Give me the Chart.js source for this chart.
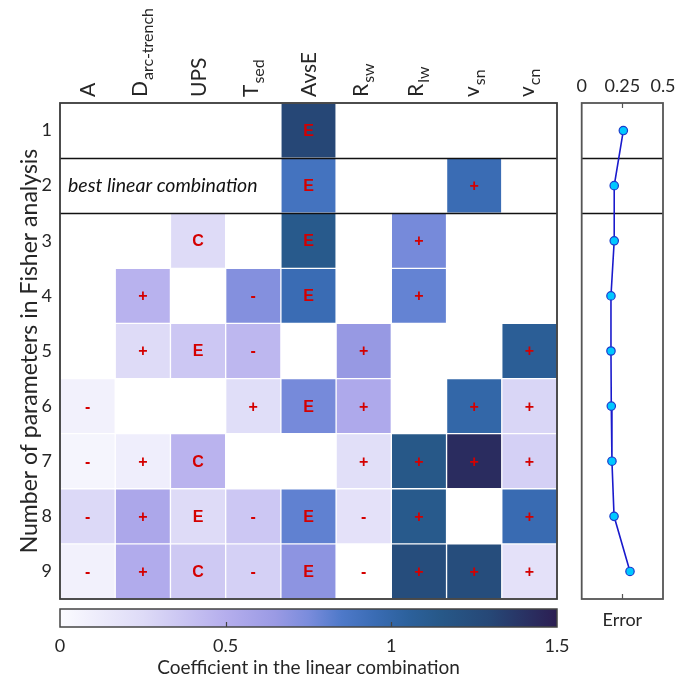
<!DOCTYPE html>
<html><head><meta charset="utf-8">
<script src="https://cdn.jsdelivr.net/npm/chart.js@4/dist/chart.umd.min.js"></script>
<style>
html,body{margin:0;padding:0;background:#fff;width:675px;height:684px;overflow:hidden;position:relative}
canvas{position:absolute;display:block}
#main{left:0;top:0}
#err{left:570px;top:0}
#cbar{left:0;top:600px}
</style></head><body>
<canvas id="main" width="570" height="604"></canvas>
<canvas id="err" width="110" height="640"></canvas>
<canvas id="cbar" width="675" height="84"></canvas>
<script>
// ---------- data ----------
const columnNames      = ['A','D','UPS','T','AvsE','R','R','v','v'];
const columnSubscripts = ['','arc-trench','','sed','','sw','lw','sn','cn'];
const rows = [1,2,3,4,5,6,7,8,9];

const coef1 = [0,0,0,0,1.30,0,0,0,0];
const coef2 = [0,0,0,0,0.90,0,0,0.95,0];
const coef3 = [0,0,0.25,0,1.13,0,0.76,0,0];
const coef4 = [0,0.48,0,0.72,0.95,0,0.80,0,0];
const coef5 = [0,0.25,0.36,0.45,0,0.66,0,0,1.08];
const coef6 = [0.08,0,0,0.23,0.76,0.54,0,1.00,0.28];
const coef7 = [0.05,0.10,0.47,0,0,0.22,1.15,1.43,0.31];
const coef8 = [0.26,0.55,0.25,0.36,0.81,0.20,1.13,0,0.96];
const coef9 = [0.08,0.52,0.35,0.31,0.69,0,1.25,1.25,0.20];

const sign1 = ['','','','','E','','','',''];
const sign2 = ['','','','','E','','','+',''];
const sign3 = ['','','C','','E','','+','',''];
const sign4 = ['','+','','-','E','','+','',''];
const sign5 = ['','+','E','-','','+','','','+'];
const sign6 = ['-','','','+','E','+','','+','+'];
const sign7 = ['-','+','C','','','+','+','+','+'];
const sign8 = ['-','+','E','-','E','-','+','','+'];
const sign9 = ['-','+','C','-','E','-','+','+','+'];

const errorValues = [0.256,0.200,0.200,0.180,0.180,0.182,0.186,0.199,0.297];

const errorTicks = [0, 0.25, 0.5];
const colorbarTicks = [0, 0.5, 1, 1.5];
const colorbarRange = [0, 1.5];

const coefRows = [coef1,coef2,coef3,coef4,coef5,coef6,coef7,coef8,coef9];
const signRows = [sign1,sign2,sign3,sign4,sign5,sign6,sign7,sign8,sign9];

// ---------- colormap (style) ----------
const cmapStops = [
  [0.00,'#fbfbff'],[0.25,'#dedbf7'],[0.50,'#b5aeed'],[0.65,'#9a9ae4'],
  [0.75,'#7a8cdc'],[0.85,'#4e79c9'],[0.95,'#3a6cb4'],[1.05,'#2c619c'],
  [1.15,'#275888'],[1.30,'#264776'],[1.50,'#2c1e52']
];
function hex2rgb(h){return [1,3,5].map(i=>parseInt(h.substr(i,2),16));}
function cmap(v){
  if (v<=cmapStops[0][0]) return cmapStops[0][1];
  for (let i=1;i<cmapStops.length;i++){
    if (v<=cmapStops[i][0]){
      const [v0,c0]=cmapStops[i-1],[v1,c1]=cmapStops[i];
      const t=(v-v0)/(v1-v0), a=hex2rgb(c0), b=hex2rgb(c1);
      return 'rgb('+a.map((x,k)=>Math.round(x+(b[k]-x)*t)).join(',')+')';
    }
  }
  return cmapStops[cmapStops.length-1][1];
}

const FONT = 'Lato';
const TXT = '#262626';
Chart.defaults.color = TXT;
Chart.defaults.font.family = FONT;

function noPadY(s){ s.paddingTop = 0; s.paddingBottom = 0; }
function noPadX(s){ s.paddingLeft = 0; s.paddingRight = 0; }

// ---------- main heatmap ----------
const heatPlugin = {
  id:'heatDeco',
  afterDatasetsDraw(chart){
    const {ctx, chartArea:ca, scales:{x,y}} = chart;
    ctx.save();
    // cell labels
    ctx.fillStyle = '#d40000';
    ctx.font = 'bold 16px "Liberation Sans", Arial, sans-serif';
    ctx.textAlign = 'center'; ctx.textBaseline = 'middle';
    signRows.forEach((sr,ri)=>{
      sr.forEach((s,ci)=>{
        if(!s) return;
        const px = x.getPixelForValue(ci), py = y.getPixelForValue(rows[ri]);
        ctx.fillText(s, px, py+1);
      });
    });
    // separators
    ctx.strokeStyle = '#111'; ctx.lineWidth = 1.7;
    [1.5,2.5].forEach(v=>{
      const py = Math.round(y.getPixelForValue(v))+0.5;
      ctx.beginPath(); ctx.moveTo(ca.left,py); ctx.lineTo(ca.right,py); ctx.stroke();
    });
    // frame
    ctx.strokeStyle = '#3a3a3a'; ctx.lineWidth = 1.8;
    ctx.strokeRect(ca.left, ca.top, ca.right-ca.left, ca.bottom-ca.top);
    // annotation
    ctx.fillStyle = '#111';
    ctx.font = 'italic 19.5px '+FONT;
    ctx.textAlign = 'left'; ctx.textBaseline = 'middle';
    ctx.fillText('best linear combination', ca.left+8, y.getPixelForValue(2));
    // column labels (rotated, with subscripts)
    ctx.fillStyle = TXT;
    columnNames.forEach((name,ci)=>{
      const sub = columnSubscripts[ci];
      const cx = x.getPixelForValue(ci);
      const capH = 15, subOff = sub ? 6 : 0;
      const b = (capH - subOff)/2;
      ctx.save();
      ctx.translate(cx, ca.top-6);
      ctx.rotate(-Math.PI/2);
      ctx.textAlign='left'; ctx.textBaseline='alphabetic';
      ctx.font = '21px '+FONT;
      ctx.fillText(name, 0, b);
      if (sub){
        const w = ctx.measureText(name).width;
        ctx.font = '16px '+FONT;
        ctx.fillText(sub, w+1, b+subOff);
      }
      ctx.restore();
    });
    ctx.restore();
  }
};

new Chart(document.getElementById('main'), {
  type:'bar',
  data:{
    labels: columnNames.map((n,i)=>n+columnSubscripts[i]),
    datasets: coefRows.map((cr,ri)=>({
      label:'n='+rows[ri],
      data: cr.map(v=> v>0 ? [rows[ri]-0.5, rows[ri]+0.5] : null),
      backgroundColor: cr.map(v=>cmap(v)),
      borderColor: 'rgba(255,255,255,0.12)',
      borderWidth: 1,
      borderSkipped: false,
      barPercentage:1, categoryPercentage:1, grouped:false
    }))
  },
  options:{
    responsive:false, animation:false, devicePixelRatio:1,
    layout:{padding:{left:14,right:13,top:0,bottom:5}},
    plugins:{legend:{display:false},tooltip:{enabled:false}},
    scales:{
      x:{position:'top', ticks:{display:false}, grid:{display:false}, border:{display:false},
         afterFit(s){ s.height = 103; noPadX(s); }},
      y:{type:'linear', reverse:true, min:0.5, max:9.5,
         afterBuildTicks(s){ s.ticks = rows.map(v=>({value:v})); },
         ticks:{font:{size:18,family:FONT}, color:TXT, padding:8, autoSkip:false},
         grid:{display:false, drawTicks:false}, border:{display:false},
         title:{display:true, text:'Number of parameters in Fisher analysis', font:{size:23,family:FONT}, color:TXT, padding:{top:2,bottom:0}},
         afterFit(s){ s.width = 46; noPadY(s); }}
    }
  },
  plugins:[heatPlugin]
});

// ---------- error panel ----------
const errPlugin = {
  id:'errDeco',
  beforeDatasetsDraw(chart){
    const {ctx, chartArea:ca, scales:{x,y}} = chart;
    ctx.save();
    ctx.strokeStyle = '#111'; ctx.lineWidth = 1.5;
    [1.5,2.5].forEach(v=>{
      const py = Math.round(y.getPixelForValue(v))+0.5;
      ctx.beginPath(); ctx.moveTo(ca.left,py); ctx.lineTo(ca.right,py); ctx.stroke();
    });
    ctx.strokeStyle = '#555'; ctx.lineWidth = 1.8;
    ctx.strokeRect(ca.left, ca.top, ca.right-ca.left, ca.bottom-ca.top);
    ctx.lineWidth = 1.2;
    errorTicks.slice(1,-1).forEach(v=>{
      const px = Math.round(x.getPixelForValue(v))+0.5;
      ctx.beginPath(); ctx.moveTo(px,ca.top); ctx.lineTo(px,ca.top+5);
      ctx.moveTo(px,ca.bottom); ctx.lineTo(px,ca.bottom-5); ctx.stroke();
    });
    ctx.restore();
  }
};
new Chart(document.getElementById('err'), {
  type:'line',
  data:{datasets:[{
    data: errorValues.map((e,i)=>({x:e, y:rows[i]})),
    borderColor:'#1a1acc', borderWidth:1.6,
    pointBackgroundColor:'#00c8ff', pointBorderColor:'#1a3acc',
    pointRadius:4.2, pointBorderWidth:1.2, tension:0
  }]},
  options:{
    responsive:false, animation:false, devicePixelRatio:1,
    layout:{padding:{left:11.7,right:17,top:0,bottom:0}},
    plugins:{legend:{display:false},tooltip:{enabled:false}},
    scales:{
      x:{type:'linear', position:'top', min:0, max:0.5,
         afterBuildTicks(s){ s.ticks = errorTicks.map(v=>({value:v})); },
         ticks:{font:{size:18,family:FONT}, color:TXT, padding:6, maxRotation:0, autoSkip:false, callback:v=>String(v)},
         grid:{display:false, drawTicks:false}, border:{display:false},
         afterFit(s){ s.height = 103; noPadX(s); }},
      x2:{type:'linear', position:'bottom', min:0, max:0.5,
         ticks:{display:false}, grid:{display:false, drawTicks:false}, border:{display:false},
         title:{display:true, text:'Error', font:{size:18,family:FONT}, color:TXT, padding:{top:0,bottom:9}},
         afterFit(s){ s.height = 41; noPadX(s); }},
      y:{type:'linear', reverse:true, min:0.5, max:9.5, display:false}
    }
  },
  plugins:[errPlugin]
});

// ---------- colorbar ----------
const cbarPlugin = {
  id:'cbarDeco',
  afterDatasetsDraw(chart){
    const {ctx, chartArea:ca, scales:{x}} = chart;
    ctx.save();
    ctx.strokeStyle = '#444'; ctx.lineWidth = 1.5;
    ctx.strokeRect(ca.left, ca.top, ca.right-ca.left, ca.bottom-ca.top);
    ctx.lineWidth = 1.2;
    colorbarTicks.slice(1,-1).forEach(v=>{
      const px = Math.round(x.getPixelForValue(v))+0.5;
      ctx.beginPath(); ctx.moveTo(px,ca.bottom); ctx.lineTo(px,ca.bottom-5); ctx.stroke();
    });
    ctx.restore();
  }
};
new Chart(document.getElementById('cbar'), {
  type:'bar',
  data:{labels:['coef'], datasets:[{
    data:[colorbarRange],
    backgroundColor(c){
      const ch = c.chart; if(!ch.chartArea) return '#fff';
      const xs = ch.scales.x;
      const g = ch.ctx.createLinearGradient(xs.getPixelForValue(colorbarRange[0]),0,xs.getPixelForValue(colorbarRange[1]),0);
      cmapStops.forEach(([v,col])=>g.addColorStop((v-colorbarRange[0])/(colorbarRange[1]-colorbarRange[0]), col));
      return g;
    },
    borderWidth:0, barPercentage:1, categoryPercentage:1
  }]},
  options:{
    indexAxis:'y', responsive:false, animation:false, devicePixelRatio:1,
    layout:{padding:{left:60,right:118,top:9,bottom:0}},
    plugins:{legend:{display:false},tooltip:{enabled:false}},
    scales:{
      x:{type:'linear', min:colorbarRange[0], max:colorbarRange[1],
         afterBuildTicks(s){ s.ticks = colorbarTicks.map(v=>({value:v})); },
         ticks:{font:{size:18,family:FONT}, color:TXT, padding:8, maxRotation:0, autoSkip:false, callback:v=>String(v)},
         grid:{display:false, drawTicks:false}, border:{display:false},
         title:{display:true, text:'Coefficient in the linear combination', font:{size:19,family:FONT}, color:TXT, padding:{top:0,bottom:5}},
         afterFit(s){ s.height = 57; noPadX(s); }},
      y:{display:false, afterFit(s){ noPadY(s); }}
    }
  },
  plugins:[cbarPlugin]
});
</script>
</body></html>
